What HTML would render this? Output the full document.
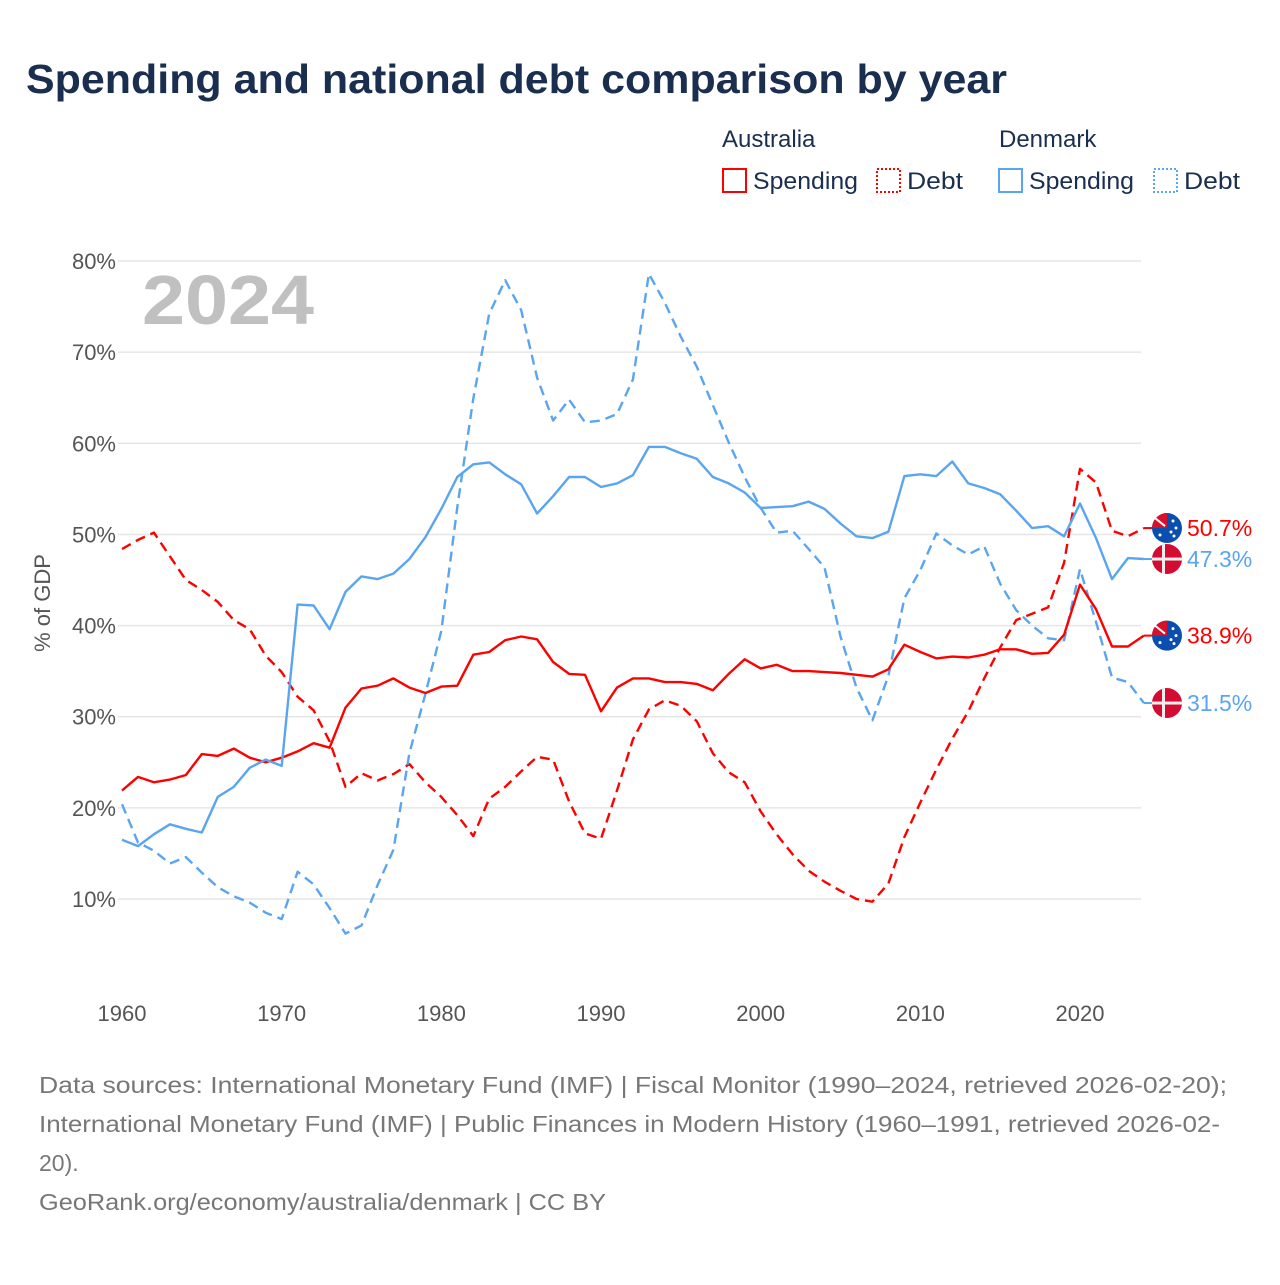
<!DOCTYPE html>
<html><head><meta charset="utf-8">
<style>
body{margin:0;background:#fff;width:1280px;height:1280px;overflow:hidden;font-family:"Liberation Sans",sans-serif}
</style></head>
<body>
<svg id="chart" width="1280" height="1280" xmlns="http://www.w3.org/2000/svg" font-family="Liberation Sans, sans-serif">
<text x="26" y="93" font-size="41" font-weight="bold" fill="#1a2e4f" textLength="981" lengthAdjust="spacingAndGlyphs">Spending and national debt comparison by year</text>
<g font-size="24" fill="#1a2e4f">
<text x="722" y="147">Australia</text>
<text x="999" y="147">Denmark</text>
<g><rect x="723" y="169" width="23" height="23" fill="none" stroke="#ff0000" stroke-width="2"/><text x="753" y="189" textLength="105" lengthAdjust="spacingAndGlyphs">Spending</text></g>
<g><rect x="877" y="169" width="23" height="23" fill="none" stroke="#ff0000" stroke-width="2" stroke-dasharray="2,2"/><text x="907" y="189" textLength="56" lengthAdjust="spacingAndGlyphs">Debt</text></g>
<g><rect x="999" y="169" width="23" height="23" fill="none" stroke="#5aa5ef" stroke-width="2"/><text x="1029" y="189" textLength="105" lengthAdjust="spacingAndGlyphs">Spending</text></g>
<g><rect x="1154" y="169" width="23" height="23" fill="none" stroke="#5aa5ef" stroke-width="2" stroke-dasharray="2,2"/><text x="1184" y="189" textLength="56" lengthAdjust="spacingAndGlyphs">Debt</text></g>
</g>
<g id="grid"></g>
<g id="yticks" font-size="22" fill="#555"></g>
<g id="xticks" font-size="22" fill="#555"></g>
<text transform="translate(50,603) rotate(-90)" text-anchor="middle" font-size="22" fill="#555">% of GDP</text>
<text x="142" y="324" font-size="70" font-weight="bold" fill="#c0c0c0" textLength="172" lengthAdjust="spacingAndGlyphs">2024</text>
<g id="series"></g>
<g id="ends"></g>
<g font-size="23" fill="#777">
<text x="39" y="1093" textLength="1188" lengthAdjust="spacingAndGlyphs">Data sources: International Monetary Fund (IMF) | Fiscal Monitor (1990–2024, retrieved 2026-02-20);</text>
<text x="39" y="1132" textLength="1181" lengthAdjust="spacingAndGlyphs">International Monetary Fund (IMF) | Public Finances in Modern History (1960–1991, retrieved 2026-02-</text>
<text x="39" y="1171">20).</text>
<text x="39" y="1210" textLength="567" lengthAdjust="spacingAndGlyphs">GeoRank.org/economy/australia/denmark | CC BY</text>
</g>
</svg>
<script>
const startYear = 1960;
const yTicks = [10,20,30,40,50,60,70,80];
const xTicks = [1960,1970,1980,1990,2000,2010,2020];
const auSpending = [21.9,23.4,22.8,23.1,23.6,25.9,25.7,26.5,25.5,25.0,25.5,26.2,27.1,26.6,31.0,33.1,33.4,34.2,33.2,32.6,33.3,33.4,36.8,37.1,38.4,38.8,38.5,36.0,34.7,34.6,30.6,33.2,34.2,34.2,33.8,33.8,33.6,32.9,34.7,36.3,35.3,35.7,35.0,35.0,34.9,34.8,34.6,34.4,35.2,37.9,37.1,36.4,36.6,36.5,36.8,37.4,37.4,36.9,37.0,39.0,44.5,41.8,37.7,37.7,38.9];
const auDebt = [48.4,49.4,50.2,47.6,45.0,43.9,42.6,40.6,39.6,36.7,34.9,32.2,30.7,27.3,22.3,23.8,23.0,23.7,24.8,22.8,21.2,19.2,16.9,21.0,22.3,24.0,25.6,25.3,20.7,17.2,16.6,21.9,27.5,30.8,31.8,31.2,29.5,26.0,23.9,22.8,19.6,17.1,14.9,13.1,11.9,10.9,10.0,9.7,11.7,16.8,20.6,24.2,27.6,30.6,34.2,37.6,40.6,41.3,42.0,46.9,57.2,55.7,50.4,49.8,50.7];
const dkSpending = [16.5,15.8,17.1,18.2,17.7,17.3,21.2,22.3,24.4,25.3,24.6,42.3,42.2,39.6,43.7,45.4,45.1,45.7,47.3,49.7,52.8,56.3,57.7,57.9,56.6,55.5,52.3,54.2,56.3,56.3,55.2,55.6,56.5,59.6,59.6,58.9,58.3,56.3,55.6,54.6,52.9,53.0,53.1,53.6,52.8,51.2,49.8,49.6,50.3,56.4,56.6,56.4,58.0,55.6,55.1,54.4,52.6,50.7,50.9,49.8,53.4,49.6,45.1,47.4,47.3];
const dkDebt = [20.4,16.2,15.3,13.9,14.6,12.9,11.3,10.3,9.6,8.5,7.8,13.0,11.6,9.0,6.2,7.1,11.5,15.4,26.0,32.5,39.4,53.0,64.9,74.2,77.9,74.6,67.2,62.5,64.8,62.3,62.5,63.2,67.0,78.6,75.4,71.7,68.4,64.2,60.1,56.3,52.9,50.2,50.4,48.4,46.4,38.8,33.2,29.6,34.5,43.0,46.1,50.1,48.8,47.8,48.7,44.6,41.7,40.0,38.6,38.4,46.2,40.4,34.3,33.8,31.5];

const NS="http://www.w3.org/2000/svg";
const X = yr => 122 + (yr-1960)*15.967;
const Y = v => 899 - (v-10)*9.114;
function mk(tag, attrs, parent){const e=document.createElementNS(NS,tag);for(const k in attrs)e.setAttribute(k,attrs[k]);parent.appendChild(e);return e;}
const grid=document.getElementById('grid'), yt=document.getElementById('yticks'), xt=document.getElementById('xticks');
yTicks.forEach(v=>{
  const l=mk('line',{x1:118,x2:1141,y1:Y(v),y2:Y(v),stroke:'#e6e6e6','stroke-width':1.5},grid);
  
  
  const t=mk('text',{x:116,y:Y(v)+8,'text-anchor':'end'},yt);t.textContent=v+'%';
  
  
});
xTicks.forEach(yr=>{
  const t=mk('text',{x:X(yr),y:1021,'text-anchor':'middle'},xt);t.textContent=yr;
  
  
});
const series=[
 {d:auDebt,c:'#ff0000',dash:'10,6',name:'au-debt-line'},
 {d:dkDebt,c:'#5aa5ef',dash:'10,6',name:'dk-debt-line'},
 {d:auSpending,c:'#ff0000',dash:'',name:'au-spending-line'},
 {d:dkSpending,c:'#5aa5ef',dash:'',name:'dk-spending-line'}
];
const sg=document.getElementById('series');
series.forEach(s=>{
  const pts=s.d.map((v,i)=>X(startYear+i).toFixed(1)+','+Y(v).toFixed(1)).join(' ');
  const p=mk('polyline',{points:pts,fill:'none',stroke:s.c,'stroke-width':2.4,'stroke-linejoin':'round'},sg);
  if(s.dash)p.setAttribute('stroke-dasharray',s.dash);
  
  
});
const ends=document.getElementById('ends');
const endItems=[
 {d:auDebt,c:'#ff0000',flag:'au',name:'au-debt-end-label'},
 {d:dkSpending,c:'#5aa5ef',flag:'dk',name:'dk-spending-end-label'},
 {d:auSpending,c:'#ff0000',flag:'au',name:'au-spending-end-label'},
 {d:dkDebt,c:'#5aa5ef',flag:'dk',name:'dk-debt-end-label'}
];
endItems.forEach(e=>{
  const last=e.d[e.d.length-1];
  const yy=Y(last), x0=X(startYear+e.d.length-1), cx=1167;
  const g=mk('g',{},ends);
  
  
  mk('line',{x1:x0,x2:cx-14,y1:yy,y2:yy,stroke:e.c,'stroke-width':2},g);
  if(e.flag==='au'){
    mk('circle',{cx:cx,cy:yy,r:15,fill:'#0a4fb0'},g);
    mk('path',{d:`M${cx-15} ${yy} A15 15 0 0 1 ${cx} ${yy-15} L${cx} ${yy} Z`,fill:'#d8102a'},g);
    mk('line',{x1:cx-12,y1:yy-10,x2:cx-2,y2:yy-2,stroke:'#fff','stroke-width':2},g);
    [[6,-7],[9,0],[4,4],[7,8],[-7,7]].forEach(p=>mk('circle',{cx:cx+p[0],cy:yy+p[1],r:1.5,fill:'#fff'},g));
  } else {
    mk('circle',{cx:cx,cy:yy,r:15,fill:'#d40c33'},g);
    mk('rect',{x:cx-5,y:yy-15,width:3,height:30,fill:'#eee'},g);
    mk('rect',{x:cx-15,y:yy-1.5,width:30,height:3,fill:'#eee'},g);
  }
  const t=mk('text',{x:1187,y:yy+8,'font-size':23,fill:e.c},g);
  t.textContent=last.toFixed(1)+'%';
});
</script>
</body></html>
